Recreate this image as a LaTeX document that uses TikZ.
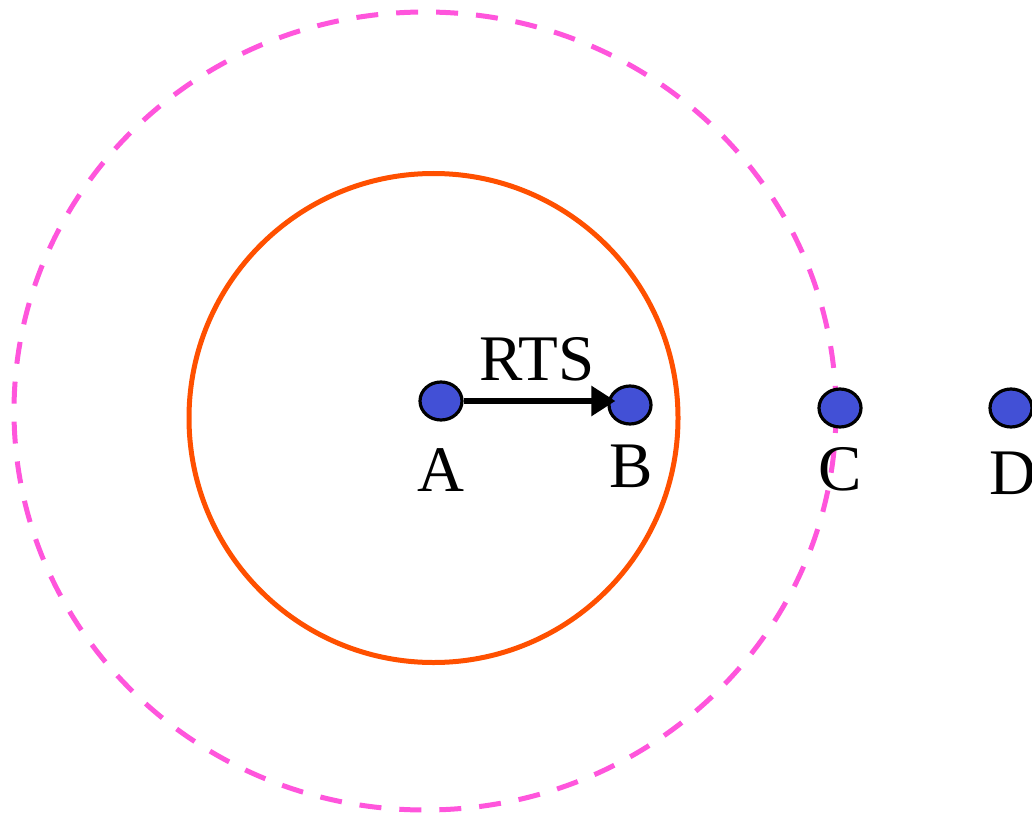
\documentclass[tikz,border=0pt]{standalone}
\usepackage{fontspec}
\setmainfont{Liberation Serif}
\usetikzlibrary{arrows.meta,shapes.geometric}
\definecolor{ringred}{RGB}{255,80,0}
\definecolor{ringpink}{RGB}{255,85,220}
\definecolor{dotblue}{RGB}{66,80,214}
\tikzset{
  station/.style={ellipse, draw=black, line width=1.6pt, fill=dotblue, minimum width=21pt, minimum height=19pt, inner sep=0pt},
  lbl/.style={anchor=base, inner sep=0pt, font=\fontsize{32.5}{38}\selectfont},
  rangering/.style={draw=ringred, line width=2.5pt},
  interfring/.style={draw=ringpink, line width=2.5pt, dash pattern=on 11pt off 9pt},
}
\begin{document}
\begin{tikzpicture}[x=0.5pt,y=-0.5pt]
\useasboundingbox (0,0) rectangle (1032,818);
% rings
\draw[interfring] (425,411) ellipse [x radius=411, y radius=399];
\draw[rangering] (433.5,418) circle [radius=244.5];
% labels
\node[lbl] (la) at (441,491) {A};
\node[lbl] (lb) at (631,487) {B};
\node[lbl] (lc) at (840,490) {C};
\node[lbl] (ld) at (1013,494) {D};
\node[lbl] (lrts) at (537,380) {RTS};
% stations
\node[station] (A) at (441,401) {};
\node[station] (B) at (630,405) {};
\node[station] (C) at (840,408) {};
\node[station] (D) at (1011,408) {};
% RTS arrow
\draw[line width=2.8pt, -{Triangle[length=12pt,width=14.5pt]}, shorten >=-4pt] (A.east) -- (A.east -| B.west);
\end{tikzpicture}
\end{document}
